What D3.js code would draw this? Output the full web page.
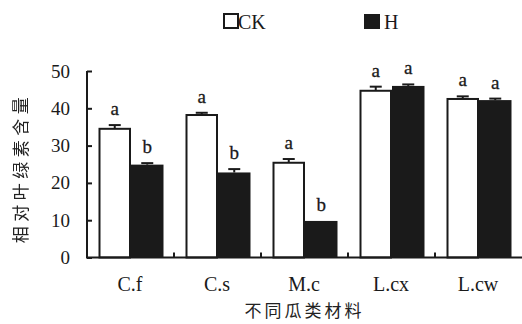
<!DOCTYPE html>
<html><head><meta charset="utf-8">
<script src="https://cdn.jsdelivr.net/npm/d3@7"></script>
<style>body{margin:0;background:#fff}svg{display:block;-webkit-font-smoothing:antialiased}.gs{will-change:transform}</style>
</head><body>
<svg id="c" width="522" height="324"></svg>
<script>
const categories = ["C.f", "C.s", "M.c", "L.cx", "L.cw"];
const seriesNames = ["CK", "H"];
const ckValues = [34.5, 38.2, 25.4, 44.7, 42.5];
const ckErrors = [1.0, 0.6, 1.0, 1.1, 0.7];
const hValues = [24.9, 22.8, 9.8, 46.0, 42.2];
const hErrors = [0.4, 0.9, 0.0, 0.4, 0.4];
const ckLetters = ["a", "a", "a", "a", "a"];
const hLetters = ["b", "b", "b", "a", "a"];
const yTicks = [0, 10, 20, 30, 40, 50];
const yTitle = "相对叶绿素含量";
const xTitle = "不同瓜类材料";

const svg = d3.select("#c");
const serif = "'Liberation Serif','Times New Roman',serif";
const cjk = "'Noto Sans CJK SC',sans-serif";
const ink = "#1a1a1a";

const x = d3.scaleBand().domain(categories).range([87, 522]).paddingInner(0).paddingOuter(0);
const sub = d3.scaleBand().domain(seriesNames).range([11.5, x.bandwidth() - 10.5]).padding(0);
const y = d3.scaleLinear().domain([0, 50]).range([257.5, 71]);

const data = categories.map((c, i) => [
  {cat: c, s: "CK", v: ckValues[i], e: ckErrors[i], l: ckLetters[i]},
  {cat: c, s: "H", v: hValues[i], e: hErrors[i], l: hLetters[i]}
]).flat();

// bars
svg.append("g").selectAll("rect").data(data).join("rect")
  .attr("x", d => x(d.cat) + sub(d.s) + (d.s === "CK" ? 1 : 0))
  .attr("y", d => y(d.v))
  .attr("width", d => sub.bandwidth() - (d.s === "CK" ? 2 : 0))
  .attr("height", d => y(0) - y(d.v))
  .attr("fill", d => d.s === "CK" ? "#fff" : ink)
  .attr("stroke", ink)
  .attr("stroke-width", d => d.s === "CK" ? 2 : 0);

// error bars (upper only)
const eg = svg.append("g").attr("stroke", ink).attr("stroke-width", 2);
data.forEach(d => {
  const cx = x(d.cat) + sub(d.s) + sub.bandwidth() / 2;
  if (d.e > 0) {
    eg.append("line").attr("x1", cx).attr("x2", cx).attr("y1", y(d.v)).attr("y2", y(d.v + d.e));
    eg.append("line").attr("x1", cx - 6).attr("x2", cx + 6).attr("y1", y(d.v + d.e)).attr("y2", y(d.v + d.e));
  }
});

// letters
svg.append("g").selectAll("text").data(data).join("text")
  .attr("x", d => x(d.cat) + sub(d.s) + sub.bandwidth() / 2)
  .attr("y", d => y(d.v + d.e) - 10)
  .attr("text-anchor", "middle")
  .attr("font-family", serif).attr("font-size", 19).attr("fill", ink)
  .attr("stroke", ink).attr("stroke-width", 0.3)
  .text(d => d.l);

// y axis
const yAxis = d3.axisLeft(y).tickValues(yTicks).tickSize(-5).tickPadding(16);
const ya = svg.append("g").attr("transform", "translate(87,0)").call(yAxis);
ya.select(".domain").attr("stroke", ink).attr("stroke-width", 2).attr("d", `M0,${y(50)}V${y(0)}`);
ya.selectAll(".tick line").attr("stroke", ink).attr("stroke-width", 2);
ya.selectAll(".tick text").attr("font-family", serif).attr("font-size", 19).attr("fill", ink).attr("x", -17);

// x axis
const xa = svg.append("g").attr("transform", `translate(0,${y(0)})`);
xa.append("line").attr("x1", 86).attr("x2", 522).attr("y1", 0).attr("y2", 0).attr("stroke", ink).attr("stroke-width", 2);
xa.selectAll("line.tk").data(categories.slice(1)).join("line").attr("class", "tk")
  .attr("x1", d => x(d)).attr("x2", d => x(d)).attr("y1", 0).attr("y2", -5)
  .attr("stroke", ink).attr("stroke-width", 2);
xa.selectAll("text").data(categories).join("text")
  .attr("x", d => x(d) + x.bandwidth() / 2 - 0.5).attr("y", 33)
  .attr("text-anchor", "middle").attr("font-family", serif).attr("font-size", 20).attr("fill", ink)
  .text(d => d);

// titles
svg.append("text").attr("x", 304.5).attr("y", 317).attr("text-anchor", "middle")
  .attr("font-family", cjk).attr("font-size", 17).attr("letter-spacing", 3).attr("fill", "#222").text(xTitle);
svg.append("text").attr("class", "gs").attr("transform", "translate(27,168) rotate(-90)").attr("text-anchor", "middle")
  .attr("font-family", cjk).attr("font-size", 17).attr("letter-spacing", 4.5).attr("fill", "#222").text(yTitle);

// legend
const lg = svg.append("g");
const legendX = [223, 364];
seriesNames.forEach((s, i) => {
  lg.append("rect").attr("x", legendX[i] + (i === 0 ? 1 : 0)).attr("y", 14)
    .attr("width", i === 0 ? 14 : 16).attr("height", i === 0 ? 14 : 15)
    .attr("fill", i === 0 ? "#fff" : ink).attr("stroke", ink).attr("stroke-width", i === 0 ? 2 : 0);
  lg.append("text").attr("x", legendX[i] + (i === 0 ? 15 : 20)).attr("y", 28.5)
    .attr("font-family", serif).attr("font-size", 20).attr("fill", ink).text(s);
});
</script>
</body></html>
